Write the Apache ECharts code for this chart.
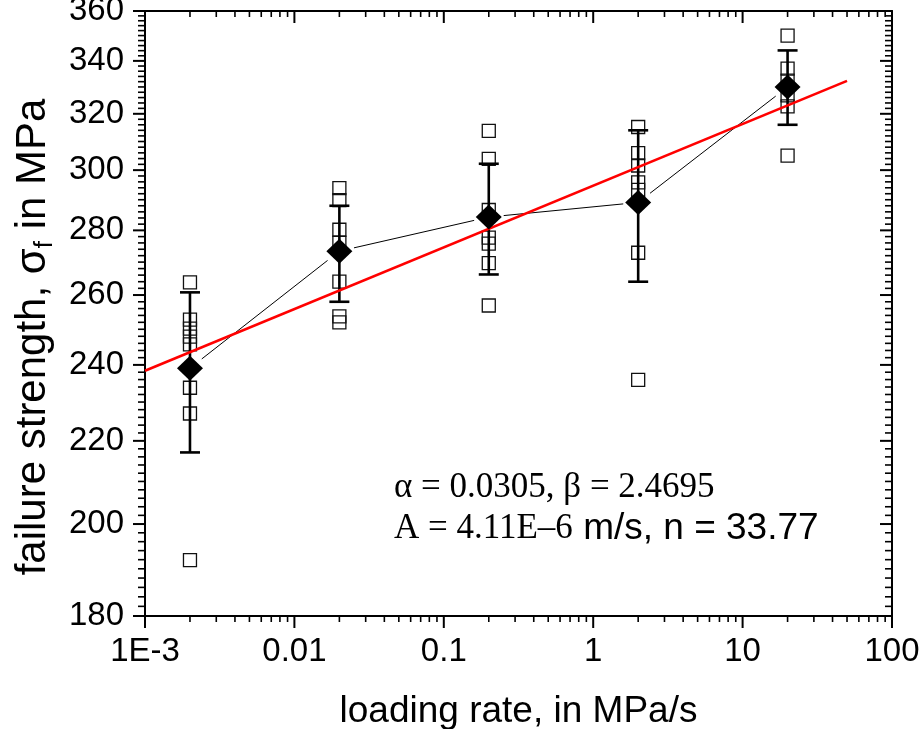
<!DOCTYPE html>
<html><head><meta charset="utf-8">
<script src="https://cdn.jsdelivr.net/npm/echarts@6/dist/echarts.min.js"></script>
<style>html,body{margin:0;padding:0;background:#fff}#c{width:922px;height:729px}</style>
</head><body><div id="c"></div>
<script>
// ---- data ----
const rates = [0.002, 0.02, 0.2, 2, 20];                 // MPa/s
const means = [239.1, 273.4, 284.3, 289.1, 330.0];       // MPa
const errLow = [217.1, 258.0, 266.2, 264.0, 316.0];
const errHigh = [260.8, 288.0, 302.2, 314.0, 344.1];
const samples1 = [263.8, 252.8, 250.2, 247.9, 245.7, 233.8, 227.0, 191.9];
const samples2 = [293.9, 289.9, 280.2, 276.1, 264.0, 253.7, 252.0];
const samples3 = [313.8, 303.9, 286.6, 277.7, 275.8, 269.7, 256.9];
const samples4 = [315.2, 305.9, 301.6, 295.8, 293.3, 272.9, 235.9];
const samples5 = [350.0, 337.0, 332.4, 326.8, 322.7, 305.0];
const fitRates = [0.001, 50];
const fitStrength = [238.4, 332.3];
const xTickValues = [0.001, 0.01, 0.1, 1, 10, 100];
const xTickLabels = ['1E-3', '0.01', '0.1', '1', '10', '100'];
const yTickValues = [180, 200, 220, 240, 260, 280, 300, 320, 340, 360];
const yMinorStep = 2;

// ---- transforms (log scales) ----
const lx = Math.log10, ly = Math.log;
const xMin = lx(xTickValues[0]), xMax = lx(xTickValues[xTickValues.length - 1]);
const yMin = ly(yTickValues[0]), yMax = ly(yTickValues[yTickValues.length - 1]);

const xMinor = [];
for (let i = 0; i < xTickValues.length - 1; i++) {
  for (let k = 2; k <= 9; k++) xMinor.push(lx(xTickValues[i] * k));
}
const yMinor = [];
for (let v = yTickValues[0] + yMinorStep; v < yTickValues[yTickValues.length - 1]; v += yMinorStep) {
  if (yTickValues.indexOf(v) < 0) yMinor.push(ly(v));
}
const yMajor = yTickValues.map(ly);
const xMajor = xTickValues.map(lx);

const allSamples = [samples1, samples2, samples3, samples4, samples5];
const sampleData = [];
allSamples.forEach((arr, i) => arr.forEach(v => sampleData.push([lx(rates[i]), ly(v)])));

const SANS = 'Liberation Sans', SERIF = 'Liberation Serif';

function xAxisDef(pos) {
  const main = pos === 'bottom';
  return {
    type: 'value', position: pos, min: xMin, max: xMax, interval: 1,
    axisLine: {show: true, onZero: false, lineStyle: {color: '#000', width: 2}},
    axisTick: {show: false},
    axisLabel: main ? {
      show: true, margin: 19, fontSize: 33, color: '#000', fontFamily: SANS,
      customValues: xMajor,
      formatter: v => {
        const i = xMajor.findIndex(t => Math.abs(t - v) < 1e-6);
        return i >= 0 ? xTickLabels[i] : '';
      }
    } : {show: false},
    splitLine: {show: false},
    name: main ? 'loading rate, in MPa/s' : '',
    nameLocation: 'middle', nameGap: 77,
    nameTextStyle: {fontSize: 37, color: '#000', fontFamily: SANS}
  };
}
function yAxisDef(pos) {
  const main = pos === 'left';
  return {
    type: 'value', position: pos, min: yMin, max: yMax,
    axisLine: {show: true, onZero: false, lineStyle: {color: '#000', width: 2}},
    axisTick: {show: false},
    axisLabel: main ? {
      show: true, margin: 21, fontSize: 33, color: '#000', fontFamily: SANS,
      customValues: yMajor,
      formatter: v => String(Math.round(Math.exp(v)))
    } : {show: false},
    splitLine: {show: false}
  };
}

function seg(x1, y1, x2, y2, w) {
  return {type: 'line', shape: {x1: x1, y1: y1, x2: x2, y2: y2}, style: {stroke: '#000', lineWidth: w}};
}

const chart = echarts.init(document.getElementById('c'));
chart.setOption({
  animation: false,
  backgroundColor: '#fff',
  grid: {left: 145, top: 11, width: 747, height: 605, containLabel: false, outerBoundsMode: 'none'},
  xAxis: [xAxisDef('bottom'), xAxisDef('top')],
  yAxis: [yAxisDef('left'), yAxisDef('right')],
  graphic: [
    {
      type: 'text', x: 33, y: 337, rotation: Math.PI / 2,
      style: {
        text: '{a|failure strength, σ}{s|f}{a| in MPa}',
        align: 'center', verticalAlign: 'middle',
        rich: {
          a: {fontSize: 42, lineHeight: 42, fontFamily: SANS, color: '#000', verticalAlign: 'top'},
          s: {fontSize: 26, lineHeight: 26, fontFamily: SANS, color: '#000', verticalAlign: 'top', padding: [20, 0, 0, 0]}
        }
      }
    },
    {
      type: 'text', x: 394, y: 488,
      style: {text: 'α = 0.0305, β = 2.4695', fontSize: 35, fontFamily: SERIF, fill: '#000', align: 'left', verticalAlign: 'middle'}
    },
    {
      type: 'text', x: 394, y: 529,
      style: {
        text: '{t|A = 4.11E–6}{a| m/s, n = 33.77}', align: 'left', verticalAlign: 'middle',
        rich: {
          t: {fontSize: 35, fontFamily: SERIF, color: '#000'},
          a: {fontSize: 37, fontFamily: SANS, color: '#000'}
        }
      }
    }
  ],
  series: [
    {
      // tick marks of all four frame sides, placed through the axes' own scales
      type: 'custom', xAxisIndex: 0, yAxisIndex: 0, z: 10, clip: false, silent: true,
      data: [[xMin, yMin]],
      renderItem: (params, api) => {
        const lb = api.coord([xMin, yMin]), rt = api.coord([xMax, yMax]);
        const left = lb[0], bottom = lb[1], right = rt[0], top = rt[1];
        const ch = [];
        xMajor.forEach(v => {
          const x = api.coord([v, yMin])[0];
          ch.push(seg(x, bottom, x, bottom + 12, 2));
          ch.push(seg(x, top, x, top + 12, 2));
        });
        xMinor.forEach(v => {
          const x = api.coord([v, yMin])[0];
          ch.push(seg(x, bottom, x, bottom + 6, 1.6));
          ch.push(seg(x, top, x, top + 6, 1.6));
        });
        yMajor.forEach(v => {
          const y = api.coord([xMin, v])[1];
          ch.push(seg(left - 12, y, left, y, 2));
          ch.push(seg(right - 12, y, right, y, 2));
        });
        yMinor.forEach(v => {
          const y = api.coord([xMin, v])[1];
          ch.push(seg(left - 7, y, left, y, 1.6));
          ch.push(seg(right - 7, y, right, y, 1.6));
        });
        return {type: 'group', children: ch};
      }
    },
    {
      type: 'scatter', xAxisIndex: 0, yAxisIndex: 0, data: sampleData,
      symbol: 'rect', symbolSize: 13, z: 2,
      itemStyle: {color: 'rgba(0,0,0,0)', borderColor: '#111', borderWidth: 1.3, opacity: 1}
    },
    {
      type: 'custom', xAxisIndex: 0, yAxisIndex: 0, z: 3,
      data: rates.map((r, i) => [lx(r), ly(errLow[i]), ly(errHigh[i])]),
      encode: {x: 0, y: [1, 2]},
      renderItem: (params, api) => {
        const x = api.value(0);
        const lo = api.coord([x, api.value(1)]);
        const hi = api.coord([x, api.value(2)]);
        const w = 10, st = {stroke: '#000', lineWidth: 2.6};
        return {type: 'group', children: [
          {type: 'line', shape: {x1: lo[0], y1: lo[1], x2: hi[0], y2: hi[1]}, style: st},
          {type: 'line', shape: {x1: lo[0] - w, y1: lo[1], x2: lo[0] + w, y2: lo[1]}, style: st},
          {type: 'line', shape: {x1: hi[0] - w, y1: hi[1], x2: hi[0] + w, y2: hi[1]}, style: st}
        ]};
      }
    },
    {
      type: 'custom', xAxisIndex: 0, yAxisIndex: 0, z: 4,
      data: rates.map((r, i) => [lx(r), ly(means[i])]),
      encode: {x: 0, y: 1},
      renderItem: (params, api) => {
        const i = params.dataIndex;
        if (i === 0) return null;
        const p0 = api.coord([lx(rates[i - 1]), ly(means[i - 1])]);
        const p1 = api.coord([api.value(0), api.value(1)]);
        const dx = p1[0] - p0[0], dy = p1[1] - p0[1];
        const L = Math.sqrt(dx * dx + dy * dy), g = 15;
        const ux = dx / L, uy = dy / L;
        return {type: 'line',
          shape: {x1: p0[0] + ux * g, y1: p0[1] + uy * g, x2: p1[0] - ux * g, y2: p1[1] - uy * g},
          style: {stroke: '#000', lineWidth: 1}};
      }
    },
    {
      type: 'line', xAxisIndex: 0, yAxisIndex: 0, z: 5,
      data: fitRates.map((r, i) => [lx(r), ly(fitStrength[i])]),
      symbol: 'none', lineStyle: {color: '#ff0000', width: 2.6}
    },
    {
      type: 'scatter', xAxisIndex: 0, yAxisIndex: 0, z: 6,
      data: rates.map((r, i) => [lx(r), ly(means[i])]),
      symbol: 'diamond', symbolSize: [26, 25],
      itemStyle: {color: '#000', opacity: 1}
    }
  ]
});
</script>
</body></html>
